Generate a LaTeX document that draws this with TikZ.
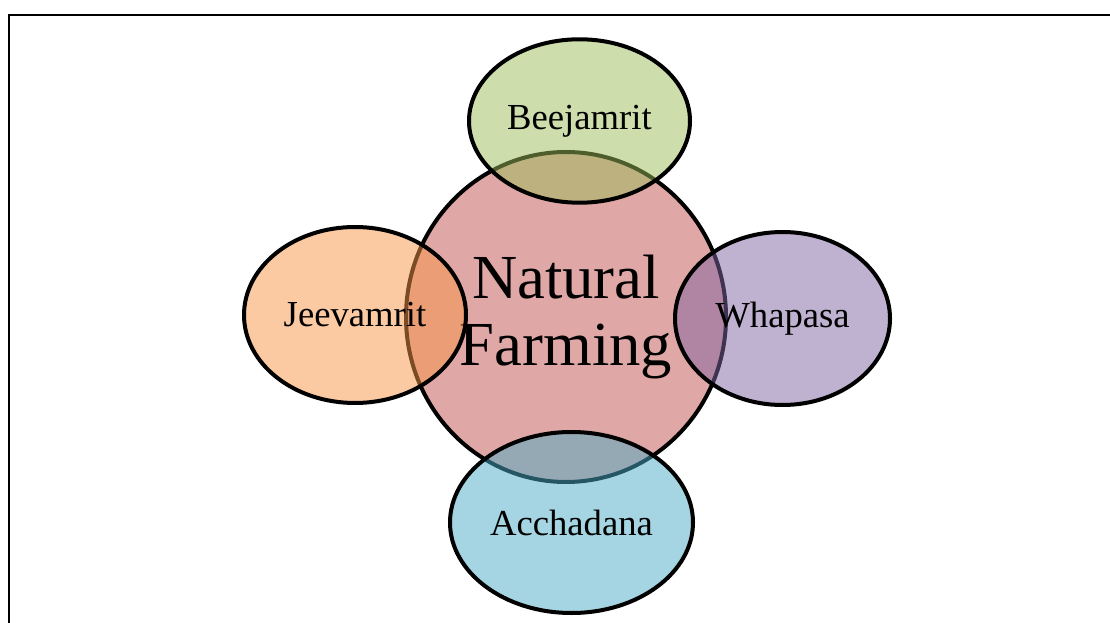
\documentclass[tikz,border=0pt]{standalone}
\usepackage{xcolor}
\usepackage{fontspec}
\setmainfont{Liberation Serif}
\usetikzlibrary{shapes.geometric}
\definecolor{accentred}{HTML}{C0504D}
\definecolor{accentgreen}{HTML}{9BBB59}
\definecolor{accentpurple}{HTML}{8064A2}
\definecolor{accentblue}{HTML}{4BACC6}
\definecolor{accentorange}{HTML}{F79646}
\tikzstyle{petal} = [ellipse, draw=black, line width=3pt, fill opacity=0.5, text opacity=1, inner sep=0pt, font=\fontsize{27.5}{33}\selectfont]
\tikzstyle{core} = [petal, align=center, font=\fontsize{47}{50}\selectfont]

\begin{document}
\begin{tikzpicture}[x=0.75pt,y=-0.75pt]
		\useasboundingbox (0,0) rectangle (1110,623);
		\draw[line width=1.5pt] (9,623) -- (9,15) -- (1110,15);
		% centre circle first, the others lie over it
		\node[core, fill=accentred, minimum width=240pt, minimum height=247.5pt] (farming) at (566,317) {Natural\\Farming};
		\node[petal, fill=accentgreen, minimum width=165.75pt, minimum height=122.6pt] (beejamrit) at (579.5,121) {Beejamrit};
		\node[petal, fill=accentorange, minimum width=166.5pt, minimum height=132pt] (jeevamrit) at (355,315) {Jeevamrit};
		\node[petal, fill=accentpurple, minimum width=161.25pt, minimum height=129.75pt] (whapasa) at (782.5,318.5) {Whapasa};
		\node[petal, fill=accentblue, minimum width=182.25pt, minimum height=135.75pt] (acchadana) at (571.5,522.5) {Acchadana};
\end{tikzpicture}
\end{document}
